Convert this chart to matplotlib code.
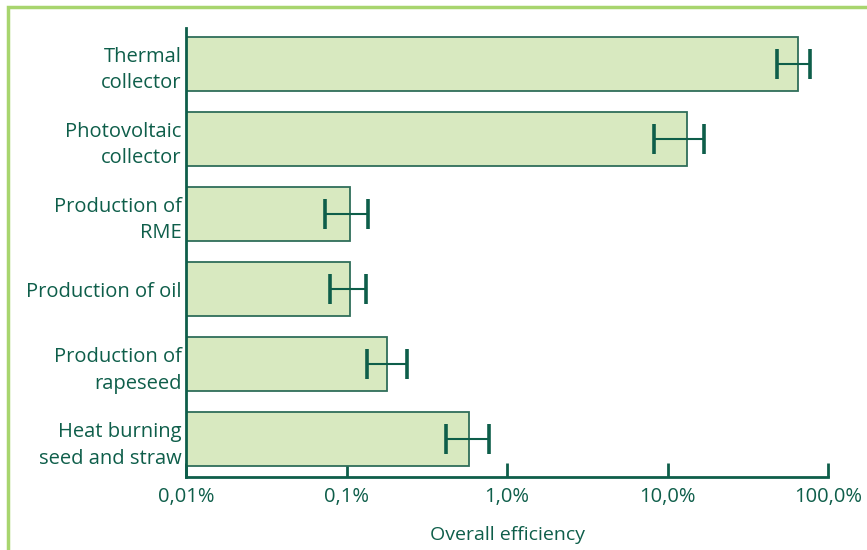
import numpy as np
import matplotlib.pyplot as plt
from matplotlib.patches import Rectangle

# data (percent), bottom to top
labels = ['Heat burning\nseed and straw', 'Production of\nrapeseed', 'Production of oil',
          'Production of\nRME', 'Photovoltaic\ncollector', 'Thermal\ncollector']
values = [0.58, 0.179, 0.105, 0.105, 13.2, 65.0]
err_low = [0.417, 0.134, 0.079, 0.073, 8.2, 48.0]
err_high = [0.77, 0.238, 0.132, 0.136, 16.9, 77.0]
tick_vals = [0.01, 0.1, 1, 10, 100]
tick_labels = ['0,01%', '0,1%', '1,0%', '10,0%', '100,0%']

dark = '#0e5e4a'
fill = '#d8e9c0'
edge = '#2f6e5a'

plt.rcParams['font.family'] = ['Open Sans', 'DejaVu Sans']

fig = plt.figure(figsize=(8.67, 5.5), dpi=100)
ax = fig.add_axes([186/867, 1-477/550, (828-186)/867, (477-28)/550])

y = np.arange(len(labels))
vals = np.array(values)
xerr = np.array([vals - np.array(err_low), np.array(err_high) - vals])
ax.barh(y, vals, height=0.72, color=fill, edgecolor=edge, linewidth=1.3, zorder=2)
ax.errorbar(vals, y, xerr=xerr, fmt='none', ecolor=dark, elinewidth=1.5,
            capsize=11, capthick=2.6, zorder=3)

ax.set_xscale('log')
ax.set_xlim(0.01, 100)
ax.set_ylim(-0.5, 5.48)
ax.set_yticks(y)
ax.set_yticklabels(labels, fontsize=14.5, color=dark, linespacing=1.45)
ax.tick_params(axis='y', length=0, pad=3)
ax.set_xticks(tick_vals)
ax.set_xticklabels(tick_labels, fontsize=14.5, color=dark)
ax.xaxis.set_minor_locator(plt.NullLocator())
ax.tick_params(axis='x', direction='in', length=10, width=2, color=dark, pad=7)
ax.set_xlabel('Overall efficiency', fontsize=14, color=dark, labelpad=14)

for s in ['top', 'right']:
    ax.spines[s].set_visible(False)
for s in ['left', 'bottom']:
    ax.spines[s].set_color(dark)
    ax.spines[s].set_linewidth(2)

# light green frame around the figure
fig.patches.append(Rectangle((8/867, -0.05), 1.1, 1-7/550+0.05, transform=fig.transFigure,
                             fill=False, edgecolor='#a8d56e', linewidth=2.5))

fig.savefig('out.png', dpi=100)
